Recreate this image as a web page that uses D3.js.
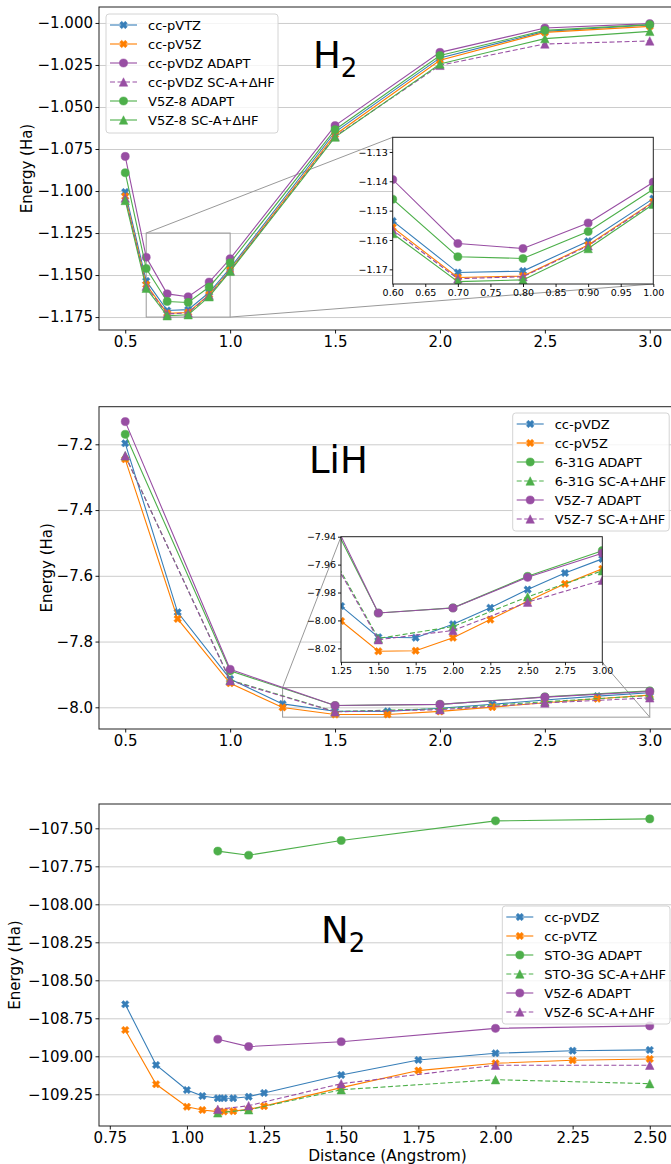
<!DOCTYPE html>
<html>
<head>
<meta charset="utf-8">
<script src="https://cdn.jsdelivr.net/npm/d3@7"></script>
<style>
  body { margin: 0; background: #fff; }
  svg { display: block; font-family: "DejaVu Sans", sans-serif; }
</style>
</head>
<body>
<svg id="fig" width="671" height="1164"></svg>
<script>
// ── Data ────────────────────────────────────────────────────────────────────
// H2
const h2X          = [0.5, 0.6, 0.7, 0.8, 0.9, 1.0, 1.5, 2.0, 2.5, 3.0];
const h2VTZ        = [-1.1006, -1.1535, -1.1711, -1.1706, -1.1604, -1.1459, -1.0649, -1.0208, -1.0050, -1.0012];
const h2V5Z        = [-1.1032, -1.1557, -1.1728, -1.1723, -1.1617, -1.1470, -1.0665, -1.0222, -1.0056, -1.0020];
const h2VDZAdapt   = [-1.0794, -1.1394, -1.1612, -1.1629, -1.1542, -1.1403, -1.0611, -1.0175, -1.0030, -1.0004];
const h2VDZSc      = [-1.1042, -1.1566, -1.1732, -1.1725, -1.1620, -1.1473, -1.0675, -1.0252, -1.0125, -1.0107];
const h2V5Z8Adapt  = [-1.0891, -1.1461, -1.1657, -1.1663, -1.1571, -1.1427, -1.0635, -1.0194, -1.0044, -1.0010];
const h2V5Z8Sc     = [-1.1056, -1.1578, -1.1742, -1.1736, -1.1629, -1.1478, -1.0679, -1.0244, -1.0093, -1.0050];
const h2XTicks     = [0.5, 1.0, 1.5, 2.0, 2.5, 3.0];
const h2YTicks     = [-1.000, -1.025, -1.050, -1.075, -1.100, -1.125, -1.150, -1.175];
const h2InXTicks   = [0.60, 0.65, 0.70, 0.75, 0.80, 0.85, 0.90, 0.95, 1.00];
const h2InYTicks   = [-1.13, -1.14, -1.15, -1.16, -1.17];

// LiH
const lihX         = [0.5, 0.75, 1.0, 1.25, 1.5, 1.75, 2.0, 2.25, 2.5, 2.75, 3.0];
const lihVDZ       = [-7.197, -7.711, -7.914, -7.9897, -8.0120, -8.0124, -8.0027, -7.9909, -7.9779, -7.9660, -7.9559];
const lihV5Z       = [-7.2456, -7.731, -7.927, -8.0004, -8.0221, -8.0217, -8.0124, -7.9994, -7.9862, -7.9738, -7.9630];
const lihAdaptX    = [0.5, 1.0, 1.5, 2.0, 2.5, 3.0];
const lih631Adapt  = [-7.1696, -7.889, -7.9947, -7.9910, -7.9684, -7.9500];
const lih631Sc     = [-7.2350, -7.917, -8.0129, -8.0044, -7.9831, -7.9644];
const lihV5Z7Adapt = [-7.1310, -7.8844, -7.9947, -7.9911, -7.9691, -7.9518];
const lihV5Z7Sc    = [-7.2345, -7.919, -8.0138, -8.0072, -7.9869, -7.9712];
const lihXTicks    = [0.5, 1.0, 1.5, 2.0, 2.5, 3.0];
const lihYTicks    = [-7.2, -7.4, -7.6, -7.8, -8.0];
const lihInXTicks  = [1.25, 1.50, 1.75, 2.00, 2.25, 2.50, 2.75, 3.00];
const lihInYTicks  = [-7.94, -7.96, -7.98, -8.00, -8.02];

// N2
const n2X          = [0.8, 0.9, 1.0, 1.05, 1.1, 1.12, 1.15, 1.2, 1.25, 1.5, 1.75, 2.0, 2.25, 2.5];
const n2VDZ        = [-108.658, -109.057, -109.222, -109.261, -109.276, -109.276, -109.276, -109.266, -109.241, -109.123, -109.024, -108.980, -108.963, -108.958];
const n2VTZ        = [-108.827, -109.184, -109.332, -109.353, -109.364, -109.363, -109.361, -109.349, -109.328, -109.206, -109.094, -109.046, -109.026, -109.018];
const n2AdaptX     = [1.1, 1.2, 1.5, 2.0, 2.5];
const n2StoAdapt   = [-107.650, -107.677, -107.580, -107.451, -107.438];
const n2StoSc      = [-109.372, -109.352, -109.220, -109.154, -109.180];
const n2V5Z6Adapt  = [-108.888, -108.936, -108.904, -108.816, -108.800];
const n2V5Z6Sc     = [-109.349, -109.325, -109.180, -109.059, -109.059];
const n2XTicks     = [0.75, 1.00, 1.25, 1.50, 1.75, 2.00, 2.25, 2.50];
const n2YTicks     = [-107.50, -107.75, -108.00, -108.25, -108.50, -108.75, -109.00, -109.25];

(function () {
  'use strict';

  const C = { blue: '#377eb8', orange: '#ff7f00', green: '#4daf4a', purple: '#984ea3' };

  // ── Marker shapes (matplotlib-like 'X', 'o', '^') ─────────────────────────
  const symX = {
    draw(ctx, size) {
      const a = Math.sqrt(size) / 2, b = a * 0.36, c = Math.SQRT1_2;
      const pts = [[b, a], [b, b], [a, b], [a, -b], [b, -b], [b, -a],
                   [-b, -a], [-b, -b], [-a, -b], [-a, b], [-b, b], [-b, a]];
      pts.forEach(([px, py], i) => {
        const rx = (px - py) * c, ry = (px + py) * c;
        i ? ctx.lineTo(rx, ry) : ctx.moveTo(rx, ry);
      });
      ctx.closePath();
    }
  };
  const symTri = {
    draw(ctx, size) {
      const r = Math.sqrt(size) / 2;
      ctx.moveTo(0, -r); ctx.lineTo(r, r); ctx.lineTo(-r, r); ctx.closePath();
    }
  };
  const MARKERS = {
    X: d3.symbol(symX, 62)(),
    o: d3.symbol(d3.symbolCircle, 52)(),
    '^': d3.symbol(symTri, 72)()
  };

  const S = (label, x, y, color, marker, dash) => ({ label, x, y, color, marker, dash: !!dash });

  // ── Panels ────────────────────────────────────────────────────────────────
  const PANELS = [
    {
      id: 'h2', box: { l: 99, r: 676, t: 7, b: 330 },
      xLim: [0.375, 3.125], yLim: [-1.1827, -0.9905],
      xTicks: h2XTicks, xFmt: '.1f', yTicks: h2YTicks, yFmt: '.3f', ylabelX: 27,
      title: { x: 313, y: 68, main: 'H', sub: '2' },
      legend: { x: 106, y: 14, w: 172, h: 119 },
      series: [
        S('cc-pVTZ', h2X, h2VTZ, C.blue, 'X'),
        S('cc-pV5Z', h2X, h2V5Z, C.orange, 'X'),
        S('cc-pVDZ ADAPT', h2X, h2VDZAdapt, C.purple, 'o'),
        S('cc-pVDZ SC-A+ΔHF', h2X, h2VDZSc, C.purple, '^', true),
        S('V5Z-8 ADAPT', h2X, h2V5Z8Adapt, C.green, 'o'),
        S('V5Z-8 SC-A+ΔHF', h2X, h2V5Z8Sc, C.green, '^')
      ],
      inset: { l: 392.7, r: 653.3, t: 137.3, b: 284, xLim: [0.6, 1.0], yLim: [-1.175, -1.125],
               xTicks: h2InXTicks, yTicks: h2InYTicks, xFmt: '.2f', yFmt: '.2f' }
    },
    {
      id: 'lih', box: { l: 99, r: 676, t: 406.7, b: 729 },
      xLim: [0.375, 3.125], yLim: [-8.066, -7.0856],
      xTicks: lihXTicks, xFmt: '.1f', yTicks: lihYTicks, yFmt: '.1f', ylabelX: 47,
      title: { x: 309, y: 473, main: 'LiH', sub: '' },
      legend: { x: 512.7, y: 413, w: 156.5, h: 118 },
      series: [
        S('cc-pVDZ', lihX, lihVDZ, C.blue, 'X'),
        S('cc-pV5Z', lihX, lihV5Z, C.orange, 'X'),
        S('6-31G ADAPT', lihAdaptX, lih631Adapt, C.green, 'o'),
        S('6-31G SC-A+ΔHF', lihAdaptX, lih631Sc, C.green, '^', true),
        S('V5Z-7 ADAPT', lihAdaptX, lihV5Z7Adapt, C.purple, 'o'),
        S('V5Z-7 SC-A+ΔHF', lihAdaptX, lihV5Z7Sc, C.purple, '^', true)
      ],
      inset: { l: 341, r: 602.3, t: 536.7, b: 662.3, xLim: [1.25, 3.0], yLim: [-8.03, -7.94],
               xTicks: lihInXTicks, yTicks: lihInYTicks, xFmt: '.2f', yFmt: '.2f' }
    },
    {
      id: 'n2', box: { l: 99, r: 676, t: 804, b: 1126 },
      xLim: [0.715, 2.585], yLim: [-109.4586, -107.34],
      xTicks: n2XTicks, xFmt: '.2f', yTicks: n2YTicks, yFmt: '.2f', ylabelX: 15,
      title: { x: 321, y: 943, main: 'N', sub: '2' },
      legend: { x: 502.3, y: 906, w: 167.7, h: 118 },
      xlabel: 'Distance (Angstrom)',
      series: [
        S('cc-pVDZ', n2X, n2VDZ, C.blue, 'X'),
        S('cc-pVTZ', n2X, n2VTZ, C.orange, 'X'),
        S('STO-3G ADAPT', n2AdaptX, n2StoAdapt, C.green, 'o'),
        S('STO-3G SC-A+ΔHF', n2AdaptX, n2StoSc, C.green, '^', true),
        S('V5Z-6 ADAPT', n2AdaptX, n2V5Z6Adapt, C.purple, 'o'),
        S('V5Z-6 SC-A+ΔHF', n2AdaptX, n2V5Z6Sc, C.purple, '^', true)
      ]
    }
  ];

  const svg = d3.select('#fig');
  PANELS.forEach(p => drawPanel(svg, p));

  // ── Shared helpers ────────────────────────────────────────────────────────
  function clipRect(id, l, t, w, h) {
    svg.append('clipPath').attr('id', id)
      .append('rect').attr('x', l).attr('y', t).attr('width', w).attr('height', h);
    return `url(#${id})`;
  }

  function drawSeries(g, list, x, y) {
    const line = d3.line().x(d => x(d[0])).y(d => y(d[1]));
    list.forEach(s => {
      const pts = s.x.map((v, i) => [v, s.y[i]]);
      g.append('path').datum(pts)
        .attr('d', line)
        .attr('fill', 'none').attr('stroke', s.color).attr('stroke-width', 1.1)
        .attr('stroke-dasharray', s.dash ? '5,2.5' : null);
      g.append('g').selectAll('path').data(pts).join('path')
        .attr('transform', d => `translate(${x(d[0])},${y(d[1])})`)
        .attr('d', MARKERS[s.marker])
        .attr('fill', s.color).attr('stroke', s.color).attr('stroke-width', 0.5);
    });
  }

  function styleAxis(sel, size) {
    sel.select('.domain').remove();
    sel.selectAll('.tick line').attr('stroke', '#000').attr('stroke-width', 0.9);
    sel.selectAll('.tick text').attr('fill', '#000').style('font-size', size + 'px')
      .style('font-family', '"DejaVu Sans", sans-serif');
  }

  // ── One subplot ───────────────────────────────────────────────────────────
  function drawPanel(svg, p) {
    const { l, r, t, b } = p.box;
    const x = d3.scaleLinear().domain(p.xLim).range([l, r]);
    const y = d3.scaleLinear().domain(p.yLim).range([b, t]);
    const root = svg.append('g').attr('class', 'panel-' + p.id);

    // horizontal grid
    root.append('g').attr('transform', `translate(${l},0)`)
      .call(d3.axisLeft(y).tickValues(p.yTicks).tickSize(-(r - l)).tickFormat(''))
      .call(s => s.select('.domain').remove())
      .selectAll('line').attr('stroke', '#cccccc').attr('stroke-width', 1);

    const data = root.append('g').attr('clip-path', clipRect('clip-' + p.id, l, t, r - l, b - t));

    // zoom indicator (rectangle + connectors) under the data lines
    if (p.inset) {
      const ins = p.inset;
      const rx0 = x(ins.xLim[0]), rx1 = x(ins.xLim[1]);
      const ry0 = y(ins.yLim[1]), ry1 = y(ins.yLim[0]);
      data.append('rect').attr('x', rx0).attr('y', ry0)
        .attr('width', rx1 - rx0).attr('height', ry1 - ry0)
        .attr('fill', 'none').attr('stroke', '#999').attr('stroke-width', 1);
      data.append('line').attr('x1', rx0).attr('y1', ry0).attr('x2', ins.l).attr('y2', ins.t)
        .attr('stroke', '#999').attr('stroke-width', 1);
      data.append('line').attr('x1', rx1).attr('y1', ry1).attr('x2', ins.r).attr('y2', ins.b)
        .attr('stroke', '#999').attr('stroke-width', 1);
    }

    drawSeries(data, p.series, x, y);

    // spines
    root.append('rect').attr('x', l).attr('y', t).attr('width', r - l).attr('height', b - t)
      .attr('fill', 'none').attr('stroke', '#222').attr('stroke-width', 1);

    // axes
    root.append('g').attr('transform', `translate(0,${b})`)
      .call(d3.axisBottom(x).tickValues(p.xTicks).tickFormat(d3.format(p.xFmt))
        .tickSize(3.5).tickPadding(2.5))
      .call(s => styleAxis(s, 15));
    root.append('g').attr('transform', `translate(${l},0)`)
      .call(d3.axisLeft(y).tickValues(p.yTicks).tickFormat(d3.format(p.yFmt))
        .tickSize(3.5).tickPadding(2.5))
      .call(s => styleAxis(s, 15));

    root.append('text')
      .attr('transform', `translate(${p.ylabelX},${(t + b) / 2}) rotate(-90)`)
      .attr('text-anchor', 'middle').attr('dominant-baseline', 'central')
      .style('font-size', '15px').text('Energy (Ha)');

    if (p.xlabel) {
      root.append('text').attr('x', (l + r) / 2).attr('y', b + 35)
        .attr('text-anchor', 'middle').style('font-size', '15.4px').text(p.xlabel);
    }

    // molecule title
    const tt = root.append('text').attr('x', p.title.x).attr('y', p.title.y)
      .style('font-size', '37px').text(p.title.main);
    if (p.title.sub) {
      tt.append('tspan').attr('dy', 9).style('font-size', '26px').text(p.title.sub);
    }

    drawLegend(root, p);
    if (p.inset) drawInset(root, p);
  }

  // ── Legend ────────────────────────────────────────────────────────────────
  function drawLegend(root, p) {
    const L = p.legend;
    const g = root.append('g').attr('transform', `translate(${L.x},${L.y})`);
    g.append('rect').attr('width', L.w).attr('height', L.h).attr('rx', 3)
      .attr('fill', '#fff').attr('fill-opacity', 0.8)
      .attr('stroke', '#d4d4d4').attr('stroke-width', 1);
    p.series.forEach((s, i) => {
      const cy = 11 + i * 19;
      g.append('line').attr('x1', 4).attr('x2', 31).attr('y1', cy).attr('y2', cy)
        .attr('stroke', s.color).attr('stroke-width', 1.1)
        .attr('stroke-dasharray', s.dash ? '5,2.5' : null);
      g.append('path').attr('transform', `translate(17.5,${cy})`)
        .attr('d', MARKERS[s.marker]).attr('fill', s.color)
        .attr('stroke', s.color).attr('stroke-width', 0.5);
      g.append('text').attr('x', 42).attr('y', cy).attr('dominant-baseline', 'central')
        .style('font-size', '13px').text(s.label);
    });
  }

  // ── Inset (zoomed) axes ───────────────────────────────────────────────────
  function drawInset(root, p) {
    const ins = p.inset;
    const x = d3.scaleLinear().domain(ins.xLim).range([ins.l, ins.r]);
    const y = d3.scaleLinear().domain(ins.yLim).range([ins.b, ins.t]);
    const g = root.append('g').attr('class', 'inset');
    g.append('rect').attr('x', ins.l).attr('y', ins.t)
      .attr('width', ins.r - ins.l).attr('height', ins.b - ins.t).attr('fill', '#fff');

    const data = g.append('g')
      .attr('clip-path', clipRect('clip-in-' + p.id, ins.l, ins.t, ins.r - ins.l, ins.b - ins.t));
    drawSeries(data, p.series, x, y);

    g.append('rect').attr('x', ins.l).attr('y', ins.t)
      .attr('width', ins.r - ins.l).attr('height', ins.b - ins.t)
      .attr('fill', 'none').attr('stroke', '#222').attr('stroke-width', 1);

    g.append('g').attr('transform', `translate(0,${ins.b})`)
      .call(d3.axisBottom(x).tickValues(ins.xTicks).tickFormat(d3.format(ins.xFmt))
        .tickSize(3).tickPadding(2))
      .call(s => styleAxis(s, 9.5));
    g.append('g').attr('transform', `translate(${ins.l},0)`)
      .call(d3.axisLeft(y).tickValues(ins.yTicks).tickFormat(d3.format(ins.yFmt))
        .tickSize(3).tickPadding(2))
      .call(s => styleAxis(s, 9.5));
  }
})();
</script>
</body>
</html>
